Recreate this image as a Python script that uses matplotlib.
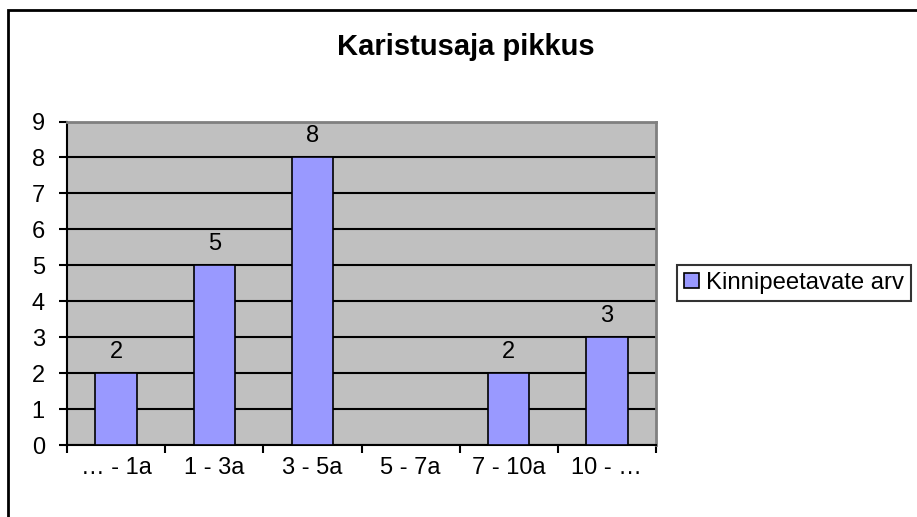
import matplotlib
matplotlib.use('Agg')
import matplotlib.pyplot as plt
from matplotlib.patches import Rectangle, Patch
import numpy as np

plt.rcParams['font.family'] = ['Liberation Sans', 'DejaVu Sans']

kategooriad = ["… - 1a", "1 - 3a", "3 - 5a", "5 - 7a", "7 - 10a", "10 - …"]
vaartused = [2, 5, 8, 0, 2, 3]
sildid = ["2", "5", "8", "", "2", "3"]
seeria = "Kinnipeetavate arv"
pealkiri = "Karistusaja pikkus"

W, H = 917, 517
fig = plt.figure(figsize=(W / 100, H / 100), dpi=100)
ax = fig.add_axes([67 / W, 1 - 445 / H, (656 - 67) / W, (445 - 121.5) / H])

x = np.arange(len(kategooriad))
ax.set_facecolor("#c0c0c0")
ax.set_xlim(-0.5, len(kategooriad) - 0.5)
ax.set_ylim(0, 9)
ax.set_yticks(range(0, 10))
ax.grid(axis="y", color="black", linewidth=1.5)
ax.set_axisbelow(True)

ax.bar(x, vaartused, width=0.42, color="#9999ff", edgecolor="black", linewidth=1.2, zorder=3)
for xi, v, s in zip(x, vaartused, sildid):
    if s:
        ax.annotate(s, (xi, v), xytext=(0, 11), textcoords="offset points",
                    ha="center", va="baseline", fontsize=17)

# spines
for s in ["top", "right"]:
    ax.spines[s].set_color("#808080")
    ax.spines[s].set_linewidth(2)
for s in ["left", "bottom"]:
    ax.spines[s].set_color("black")
    ax.spines[s].set_linewidth(1.5)

ax.set_xticks(x)
ax.set_xticklabels(kategooriad, fontsize=17)
ax.set_xticks(np.arange(-0.5, len(kategooriad)), minor=True)
ax.tick_params(axis="x", which="major", length=0, pad=9)
ax.tick_params(axis="x", which="minor", length=6, width=1.5, direction="out")
ax.tick_params(axis="y", length=6, width=1.5, direction="out", pad=10, labelsize=17)

fig.text(466 / W, 1 - 47 / H, pealkiri, ha="center", va="center", fontsize=21, fontweight="bold")

leg = fig.legend(handles=[Patch(facecolor="#9999ff", edgecolor="black", linewidth=1.2, label=seeria)],
                 loc="center left", bbox_to_anchor=(677 / W, 1 - 283 / H),
                 fontsize=17.2, frameon=True, fancybox=False, borderpad=0.3,
                 handlelength=0.6, handleheight=0.6, handletextpad=0.3, borderaxespad=0)
leg.get_frame().set_edgecolor("black")
leg.get_frame().set_linewidth(1.5)

# outer chart border (cropped at right and bottom)
top = 1 - 10 / H
fig.patches.append(Rectangle((8 / W, -0.2), 1.2, top + 0.2, transform=fig.transFigure,
                             fill=False, edgecolor="black", linewidth=2))

fig.savefig("out.png", dpi=100)
